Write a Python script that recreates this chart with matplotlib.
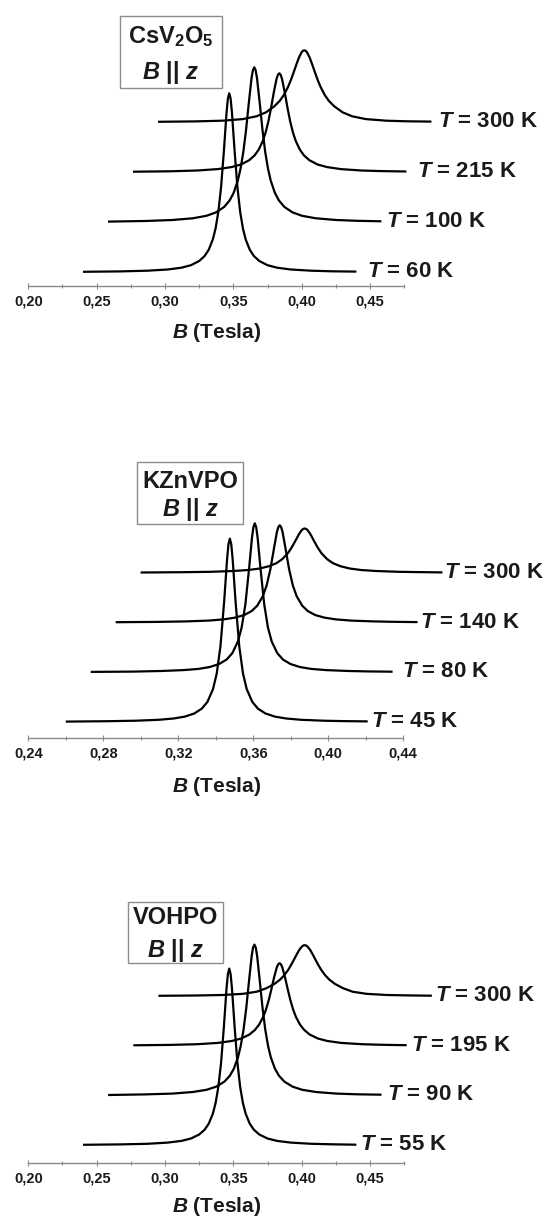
import matplotlib
matplotlib.use('Agg')
import matplotlib.pyplot as plt
from matplotlib.ticker import MultipleLocator, FuncFormatter
from matplotlib.patches import Rectangle

# ---------------- data ----------------
# Panel 1: CsV2O5, B || z   (real field in Tesla, intensity in arb. units)
csv_field = [0.240, 0.267, 0.287, 0.302, 0.312, 0.319, 0.325, 0.329, 0.332, 0.335,
             0.337, 0.339, 0.341, 0.343, 0.345, 0.346, 0.347, 0.348, 0.349, 0.351, 0.353, 0.355,
             0.357, 0.359, 0.362, 0.365, 0.369, 0.375, 0.382, 0.392, 0.407, 0.422, 0.440]
csv_temps = ['60', '100', '215', '300']
csv_i60 = [.005, .009, .016, .028, .046, .071, .113, .163, .226, .329, .439, .603, .848, 1.199, 1.593, 1.737, 1.790,
           1.737, 1.593, 1.199, .848, .603, .439, .329, .226, .163, .113, .071, .046, .028, .016, .010, .007]
csv_i100 = [.007, .013, .023, .040, .065, .099, .154, .219, .297, .419, .539, .704, .925, 1.192, 1.442, 1.521, 1.550,
            1.521, 1.442, 1.192, .925, .704, .539, .419, .297, .219, .154, .099, .065, .040, .023, .015, .010]
csv_i215 = [.006, .010, .018, .032, .052, .078, .121, .170, .228, .315, .398, .507, .645, .800, .934, .975, .990,
            .975, .934, .800, .645, .507, .398, .315, .228, .170, .121, .078, .052, .032, .018, .012, .008]
csv_i300 = [.005, .009, .016, .032, .060, .100, .159, .214, .272, .351, .416, .491, .570, .645, .700, .715, .720,
            .715, .700, .645, .570, .491, .416, .351, .272, .214, .159, .100, .060, .032, .016, .010, .007]
csv_ticks = [0.20, 0.25, 0.30, 0.35, 0.40, 0.45]

# Panel 2: KZnVPO, B || z
kzn_field = [0.2600, 0.2825, 0.2975, 0.3095, 0.3175, 0.3235, 0.3285, 0.3325, 0.3355, 0.3385,
             0.3405, 0.3425, 0.3445, 0.3460, 0.34675, 0.3475, 0.34825, 0.3490, 0.3505, 0.3525, 0.3545, 0.3565,
             0.3595, 0.3625, 0.3665, 0.3715, 0.3775, 0.3855, 0.3975, 0.4075, 0.4210]
kzn_temps = ['45', '80', '140', '300']
kzn_i45 = [.004, .008, .013, .022, .035, .054, .085, .133, .200, .328, .485, .759, 1.215, 1.626, 1.777, 1.834,
           1.777, 1.626, 1.215, .759, .485, .328, .200, .133, .085, .054, .035, .022, .013, .009, .006]
kzn_i80 = [.004, .007, .013, .022, .034, .053, .083, .128, .191, .309, .449, .683, 1.046, 1.347, 1.451, 1.490,
           1.451, 1.347, 1.046, .683, .449, .309, .191, .128, .083, .053, .034, .022, .013, .009, .006]
kzn_i140 = [.004, .007, .012, .020, .032, .049, .075, .115, .169, .265, .371, .533, .750, .906, .955, .973,
            .955, .906, .750, .533, .371, .265, .169, .115, .075, .049, .032, .020, .012, .008, .005]
kzn_i300 = [.004, .007, .011, .019, .029, .044, .067, .098, .137, .196, .252, .319, .389, .429, .440, .444,
            .440, .429, .389, .319, .252, .196, .137, .098, .067, .044, .029, .019, .011, .008, .005]
kzn_ticks = [0.24, 0.28, 0.32, 0.36, 0.40, 0.44]

# Panel 3: VOHPO, B || z
voh_field = [0.240, 0.267, 0.287, 0.302, 0.312, 0.319, 0.325, 0.329, 0.332, 0.335,
             0.337, 0.339, 0.341, 0.343, 0.345, 0.346, 0.347, 0.348, 0.349, 0.351, 0.353, 0.355,
             0.357, 0.359, 0.362, 0.365, 0.369, 0.375, 0.382, 0.392, 0.407, 0.422, 0.440]
voh_temps = ['55', '90', '195', '300']
voh_i55 = [.005, .009, .015, .027, .044, .068, .108, .156, .216, .316, .422, .581, .823, 1.170, 1.567, 1.712, 1.767,
           1.712, 1.567, 1.170, .823, .581, .422, .316, .216, .156, .108, .068, .044, .027, .015, .010, .006]
voh_i90 = [.006, .012, .020, .036, .058, .089, .139, .198, .270, .383, .497, .655, .870, 1.138, 1.396, 1.480, 1.510,
           1.480, 1.396, 1.138, .870, .655, .497, .383, .270, .198, .139, .089, .058, .036, .020, .013, .009]
voh_i195 = [.006, .010, .017, .030, .049, .074, .114, .160, .212, .289, .361, .453, .565, .685, .786, .816, .827,
            .816, .786, .685, .565, .453, .361, .289, .212, .160, .114, .074, .049, .030, .017, .011, .007]
voh_i300 = [.004, .007, .012, .024, .045, .080, .124, .166, .209, .265, .311, .362, .414, .463, .497, .507, .510,
            .507, .497, .463, .414, .362, .311, .265, .209, .166, .124, .080, .045, .024, .012, .008, .005]
voh_ticks = [0.20, 0.25, 0.30, 0.35, 0.40, 0.45]

# ---------------- style ----------------
plt.rcParams['font.family'] = ['Liberation Sans', 'DejaVu Sans']
plt.rcParams['font.weight'] = 'bold'
plt.rcParams['mathtext.fontset'] = 'custom'
plt.rcParams['mathtext.rm'] = 'Liberation Sans:bold'
plt.rcParams['mathtext.bf'] = 'Liberation Sans:bold'
plt.rcParams['mathtext.it'] = 'Liberation Sans:italic:bold'

W, H = 548, 1217
fig = plt.figure(figsize=(W / 100, H / 100), dpi=100)

TXT = '#1a1a1a'
AXC = '#8a8a8a'

panels = [
    dict(field=csv_field, temps=csv_temps, series=[csv_i60, csv_i100, csv_i215, csv_i300],
         ticks=csv_ticks, xlim=(0.20, 0.475), minor=0.025,
         axis_y=286.3, x0=28.3, ppt=1367, ymin=-0.14, dx=0.0183, dy=0.50,
         gaps=[10.7, 4.3, 11, 6.3], title=r'CsV$_{\mathrm{2}}$O$_{\mathrm{5}}$',
         box=(120, 16, 222, 88), t1=37, t2=72, xlab_y=333),
    dict(field=kzn_field, temps=kzn_temps, series=[kzn_i45, kzn_i80, kzn_i140, kzn_i300],
         ticks=kzn_ticks, xlim=(0.24, 0.44), minor=0.02,
         axis_y=738, x0=28.3, ppt=1875, ymin=-0.16, dx=0.0133, dy=0.497,
         gaps=[3, 9, 2, 2], title='KZnVPO',
         box=(137.4, 461.7, 243, 524.3), t1=482, t2=510, xlab_y=787),
    dict(field=voh_field, temps=voh_temps, series=[voh_i55, voh_i90, voh_i195, voh_i300],
         ticks=voh_ticks, xlim=(0.20, 0.475), minor=0.025,
         axis_y=1162.7, x0=28.3, ppt=1367, ymin=-0.174, dx=0.0184, dy=0.497,
         gaps=[3.5, 5, 4, 3], title='VOHPO',
         box=(127.6, 901.7, 222.7, 963.3), t1=918, t2=950, xlab_y=1207),
]

fmt = FuncFormatter(lambda v, p: f'{v:.2f}'.replace('.', ','))

for P in panels:
    wpx = (P['xlim'][1] - P['xlim'][0]) * P['ppt']
    hpx = 270
    ax = fig.add_axes([P['x0'] / W, (H - P['axis_y']) / H, wpx / W, hpx / H])
    ax.set_xlim(*P['xlim'])
    ax.set_ylim(P['ymin'], P['ymin'] + hpx / 100)
    for s in ('left', 'right', 'top'):
        ax.spines[s].set_visible(False)
    ax.spines['bottom'].set_color(AXC)
    ax.spines['bottom'].set_linewidth(1.0)
    ax.set_yticks([])
    ax.set_xticks(P['ticks'])
    ax.xaxis.set_minor_locator(MultipleLocator(P['minor']))
    ax.xaxis.set_major_formatter(fmt)
    ax.tick_params(axis='x', which='major', direction='inout', length=4, width=0.8,
                   color=AXC, labelsize=10.5, labelcolor=TXT, pad=4)
    ax.tick_params(axis='x', which='minor', direction='inout', length=3, width=0.8, color=AXC)
    for lab in ax.get_xticklabels():
        lab.set_fontweight('bold')
    ax.patch.set_visible(False)

    for i, (temp, inten) in enumerate(zip(P['temps'], P['series'])):
        xs = [b + i * P['dx'] for b in P['field']]
        ys = [v + i * P['dy'] for v in inten]
        ax.plot(xs, ys, color='black', lw=1.6, clip_on=False, solid_capstyle='butt',
                solid_joinstyle='round')
        ax.annotate(r'$T$ = ' + temp + ' K', xy=(xs[-1], ys[-1]), xytext=(P['gaps'][i], 0),
                    textcoords='offset pixels', ha='left', va='center', fontsize=16,
                    fontweight='bold', color=TXT, annotation_clip=False)

    x0b, y0b, x1b, y1b = P['box']
    fig.add_artist(Rectangle((x0b / W, 1 - y1b / H), (x1b - x0b) / W, (y1b - y0b) / H,
                             transform=fig.transFigure, fill=False, ec='#8c8c8c', lw=1.0))
    xc = (x0b + x1b) / 2
    fig.text(xc / W, 1 - P['t1'] / H, P['title'], ha='center', va='center',
             fontsize=17, fontweight='bold', color=TXT)
    fig.text(xc / W, 1 - P['t2'] / H, r'$B$ || $z$', ha='center', va='center',
             fontsize=17, fontweight='bold', color=TXT)
    fig.text(217 / W, 1 - P['xlab_y'] / H, r'$B$ (Tesla)', ha='center', va='center',
             fontsize=15, fontweight='bold', color=TXT)

fig.savefig('out.png', dpi=100)
